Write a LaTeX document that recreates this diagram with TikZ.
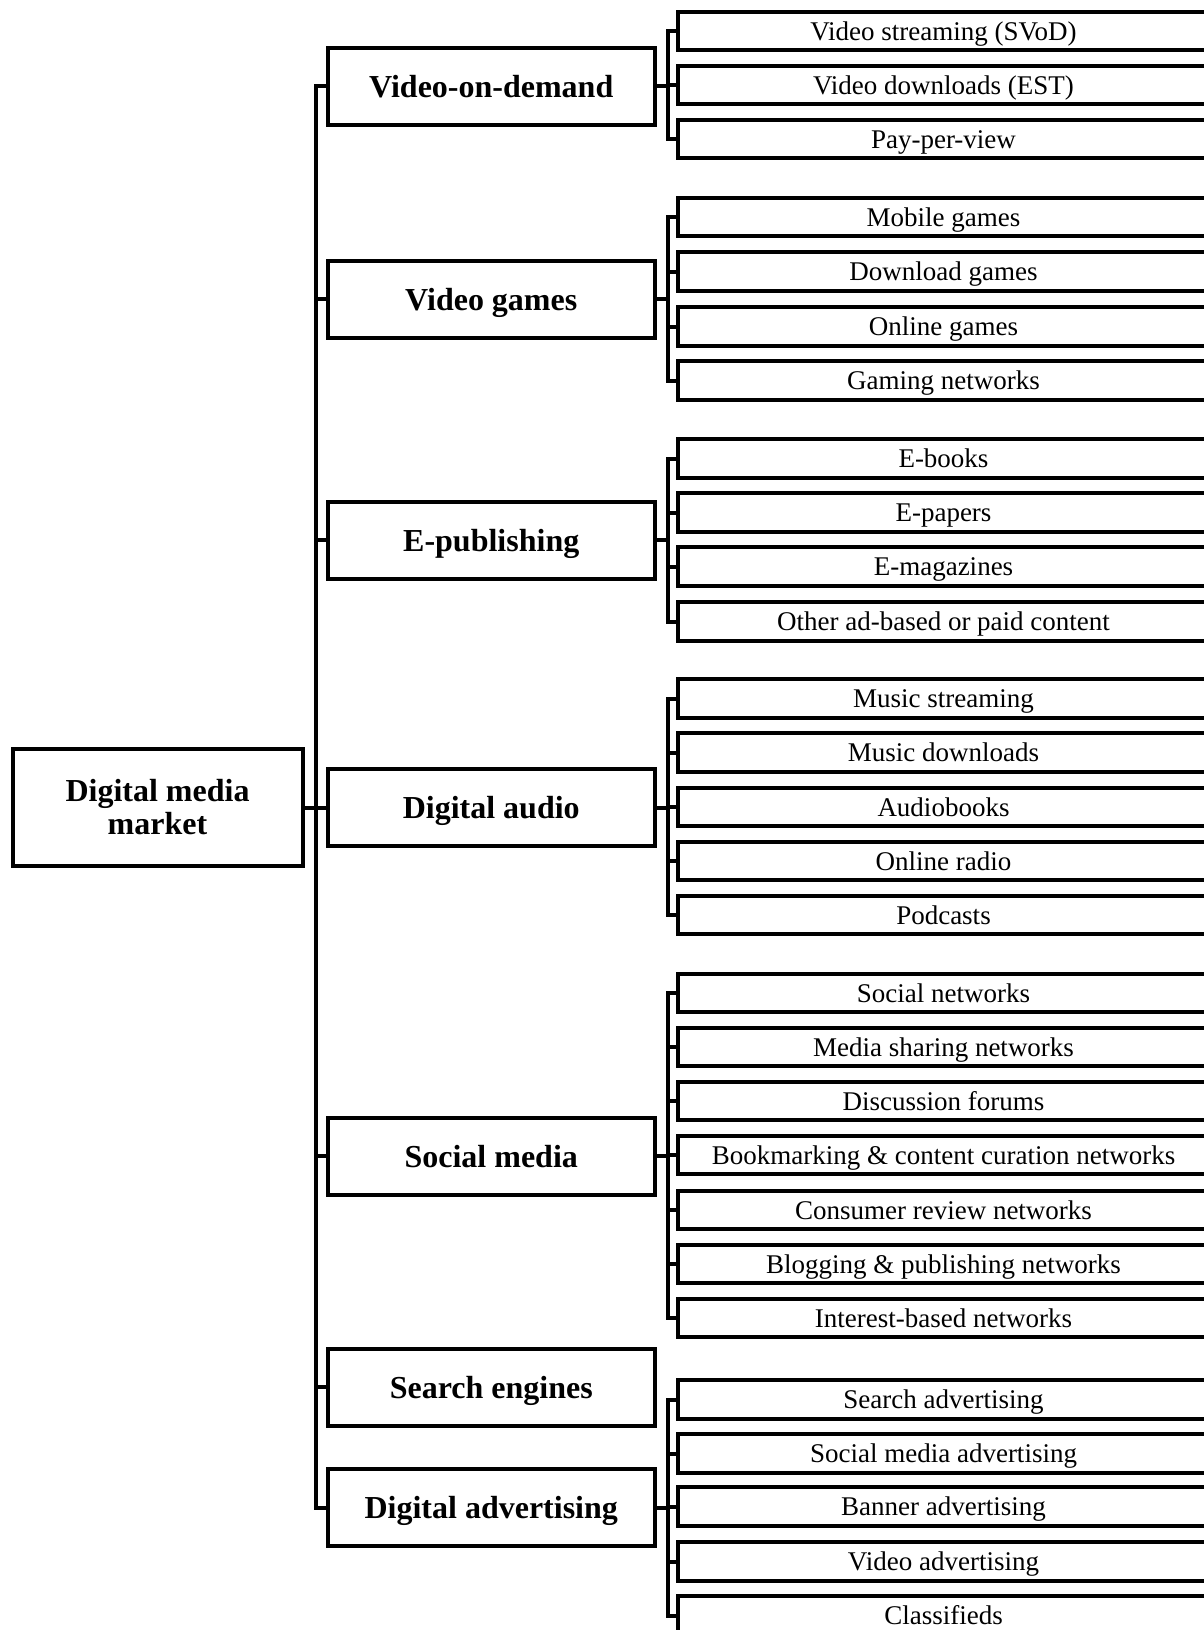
\documentclass[tikz,border=0pt]{standalone}
\usepackage{fontspec}
\setmainfont{Liberation Serif}
\usepackage{tikz}
\usetikzlibrary{positioning}

\begin{document}
\begin{tikzpicture}[x=0.5pt, y=-0.5pt,
        rootbox/.style={draw, line width=2pt, minimum width=145pt, minimum height=58.5pt, align=center, font=\bfseries\fontsize{16}{16.5}\selectfont},
        midbox/.style={draw, line width=2pt, minimum width=163.75pt, minimum height=38.5pt, text height=11pt, text depth=0pt, font=\bfseries\fontsize{16}{19}\selectfont},
        leafbox/.style={draw, line width=2pt, minimum width=265.5pt, minimum height=19.25pt, inner sep=0pt, text height=11pt, text depth=1.6pt, font=\fontsize{13.5}{16}\selectfont},
        link/.style={line width=2pt}]
        \useasboundingbox (0,0) rectangle (1204,1630);
        \clip (0,0) rectangle (1204,1630);

        \node[rootbox] (root) at (157.5, 807.5) {Digital media\\market};

        \node[midbox] (vod) at (491.25, 86) {Video-on-demand};
        \node[midbox] (vg) at (491.25, 299) {Video games};
        \node[midbox] (ep) at (491.25, 540) {E-publishing};
        \node[midbox] (da) at (491.25, 807.5) {Digital audio};
        \node[midbox] (sm) at (491.25, 1156) {Social media};
        \node[midbox] (se) at (491.25, 1387) {Search engines};
        \node[midbox] (dad) at (491.25, 1507.5) {Digital advertising};

        \draw[link] (root.east) -- ++(11.5,0) |- (vod.west)
            (root.east) -- ++(11.5,0) |- (vg.west)
            (root.east) -- ++(11.5,0) |- (ep.west)
            (root.east) -- ++(11.5,0) |- (da.west)
            (root.east) -- ++(11.5,0) |- (sm.west)
            (root.east) -- ++(11.5,0) |- (se.west)
            (root.east) -- ++(11.5,0) |- (dad.west);

        % video-on-demand
        \node[leafbox] (vod1) at (943.5, 31) {Video streaming (SVoD)};
        \node[leafbox] (vod2) at (943.5, 85) {Video downloads (EST)};
        \node[leafbox] (vod3) at (943.5, 139) {Pay-per-view};

        \draw[link] (vod.east) -- ++(10.5,0) |- (vod1.west)
            (vod.east) -- ++(10.5,0) |- (vod2.west)
            (vod.east) -- ++(10.5,0) |- (vod3.west);

        % video games
        \node[leafbox] (vg1) at (943.5, 217) {Mobile games};
        \node[leafbox] (vg2) at (943.5, 271.5) {Download games};
        \node[leafbox] (vg3) at (943.5, 326.5) {Online games};
        \node[leafbox] (vg4) at (943.5, 380.5) {Gaming networks};

        \draw[link] (vg.east) -- ++(10.5,0) |- (vg1.west)
            (vg.east) -- ++(10.5,0) |- (vg2.west)
            (vg.east) -- ++(10.5,0) |- (vg3.west)
            (vg.east) -- ++(10.5,0) |- (vg4.west);

        % e-publishing
        \node[leafbox] (ep1) at (943.5, 458.5) {E-books};
        \node[leafbox] (ep2) at (943.5, 512.5) {E-papers};
        \node[leafbox] (ep3) at (943.5, 566.5) {E-magazines};
        \node[leafbox] (ep4) at (943.5, 621.5) {Other ad-based or paid content};

        \draw[link] (ep.east) -- ++(10.5,0) |- (ep1.west)
            (ep.east) -- ++(10.5,0) |- (ep2.west)
            (ep.east) -- ++(10.5,0) |- (ep3.west)
            (ep.east) -- ++(10.5,0) |- (ep4.west);

        % digital audio
        \node[leafbox] (da1) at (943.5, 698.5) {Music streaming};
        \node[leafbox] (da2) at (943.5, 752.5) {Music downloads};
        \node[leafbox] (da3) at (943.5, 807) {Audiobooks};
        \node[leafbox] (da4) at (943.5, 861) {Online radio};
        \node[leafbox] (da5) at (943.5, 915) {Podcasts};

        \draw[link] (da.east) -- ++(10.5,0) |- (da1.west)
            (da.east) -- ++(10.5,0) |- (da2.west)
            (da.east) -- ++(10.5,0) |- (da3.west)
            (da.east) -- ++(10.5,0) |- (da4.west)
            (da.east) -- ++(10.5,0) |- (da5.west);

        % social media
        \node[leafbox] (sm1) at (943.5, 993) {Social networks};
        \node[leafbox] (sm2) at (943.5, 1047) {Media sharing networks};
        \node[leafbox] (sm3) at (943.5, 1101) {Discussion forums};
        \node[leafbox] (sm4) at (943.5, 1155) {Bookmarking \& content curation networks};
        \node[leafbox] (sm5) at (943.5, 1210) {Consumer review networks};
        \node[leafbox] (sm6) at (943.5, 1264) {Blogging \& publishing networks};
        \node[leafbox] (sm7) at (943.5, 1318) {Interest-based networks};

        \draw[link] (sm.east) -- ++(10.5,0) |- (sm1.west)
            (sm.east) -- ++(10.5,0) |- (sm2.west)
            (sm.east) -- ++(10.5,0) |- (sm3.west)
            (sm.east) -- ++(10.5,0) |- (sm4.west)
            (sm.east) -- ++(10.5,0) |- (sm5.west)
            (sm.east) -- ++(10.5,0) |- (sm6.west)
            (sm.east) -- ++(10.5,0) |- (sm7.west);

        % digital advertising
        \node[leafbox] (dad1) at (943.5, 1399.5) {Search advertising};
        \node[leafbox] (dad2) at (943.5, 1453.5) {Social media advertising};
        \node[leafbox] (dad3) at (943.5, 1506.5) {Banner advertising};
        \node[leafbox] (dad4) at (943.5, 1561.5) {Video advertising};
        \node[leafbox] (dad5) at (943.5, 1615.5) {Classifieds};

        \draw[link] (dad.east) -- ++(10.5,0) |- (dad1.west)
            (dad.east) -- ++(10.5,0) |- (dad2.west)
            (dad.east) -- ++(10.5,0) |- (dad3.west)
            (dad.east) -- ++(10.5,0) |- (dad4.west)
            (dad.east) -- ++(10.5,0) |- (dad5.west);
    \end{tikzpicture}
\end{document}
